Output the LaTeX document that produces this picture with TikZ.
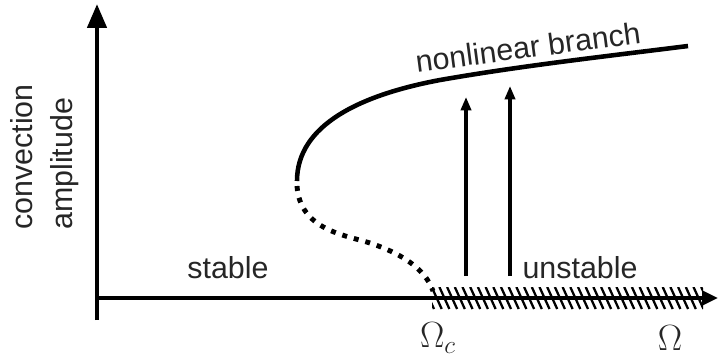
\documentclass[tikz,border=0pt]{standalone}
\usepackage[no-math]{fontspec}
\setmainfont{Liberation Sans}
\usepackage{amsmath}
\usepackage{tikz}
\usetikzlibrary{arrows.meta,positioning,calc}

\begin{document}
\begin{tikzpicture}[
    x=0.02cm, y=-0.02cm,
    axis/.style={line width=2.5pt, draw=black},
    branch/.style={line width=2.6pt, draw=black},
    unstab/.style={line width=2.8pt, draw=black, dash pattern=on 2.8pt off 4pt},
    hatch/.style={line width=1.3pt, draw=black},
    jump/.style={-{Triangle[length=7.6pt, width=5.8pt]}, line width=1.8pt, draw=black},
    lbl/.style={font=\fontsize{17.3}{22.7}\selectfont, inner sep=0pt, text=black!85},
    sym/.style={font=\fontsize{20}{24}\selectfont, inner sep=0pt, text=black!85}
]
    \useasboundingbox (0,0) rectangle (719,360);
    % axes end points
    \coordinate (o) at (97,298);
    \coordinate (ybot) at (97,320);
    \coordinate (ytop) at (97,4);
    \coordinate (xend) at (718,298);

    % hatched unstable band
    \begin{scope}
        \clip (432,287) rectangle (703,309);
        \foreach \x in {424,431.7,...,712}
            \draw [hatch] (\x,287) -- (\x+10,309);
    \end{scope}

    \draw [axis, -{Triangle[length=13.6pt, width=10.8pt]}] (ybot) -- (ytop);
    \draw [axis, -{Triangle[length=9pt, width=8pt]}] (o) -- (xend);

    % bifurcation branches
    \draw [branch] (297,181) .. controls (297,125) and (360,95) .. (440,80)
        .. controls (520,66) and (600,57) .. (688,46);
    \draw [unstab] (297,186) .. controls (300,230) and (345,235) .. (370,243)
        .. controls (400,253) and (425,268) .. (433,291);

    % jumps onto the nonlinear branch
    \coordinate (j1a) at (466,276);
    \coordinate (j1b) at (466,97);
    \coordinate (j2a) at (510,276);
    \coordinate (j2b) at (510,86);
    \draw [jump] (j1a) -- (j1b);
    \draw [jump] (j2a) -- (j2b);

    % labels
    \node [lbl, rotate=90, align=left] (amp) at (45,157) {convection\\amplitude};
    \node [lbl] (stab) at (228,268) {stable};
    \node [lbl] (unst) at (580,268) {unstable};
    \node [lbl, rotate=7.5] (nlb) at (528,47) {nonlinear branch};
    \node [sym] (omc) at (438,338) {$\Omega_c$};
    \node [sym] (om) at (670,338) {$\Omega$};
\end{tikzpicture}
\end{document}
